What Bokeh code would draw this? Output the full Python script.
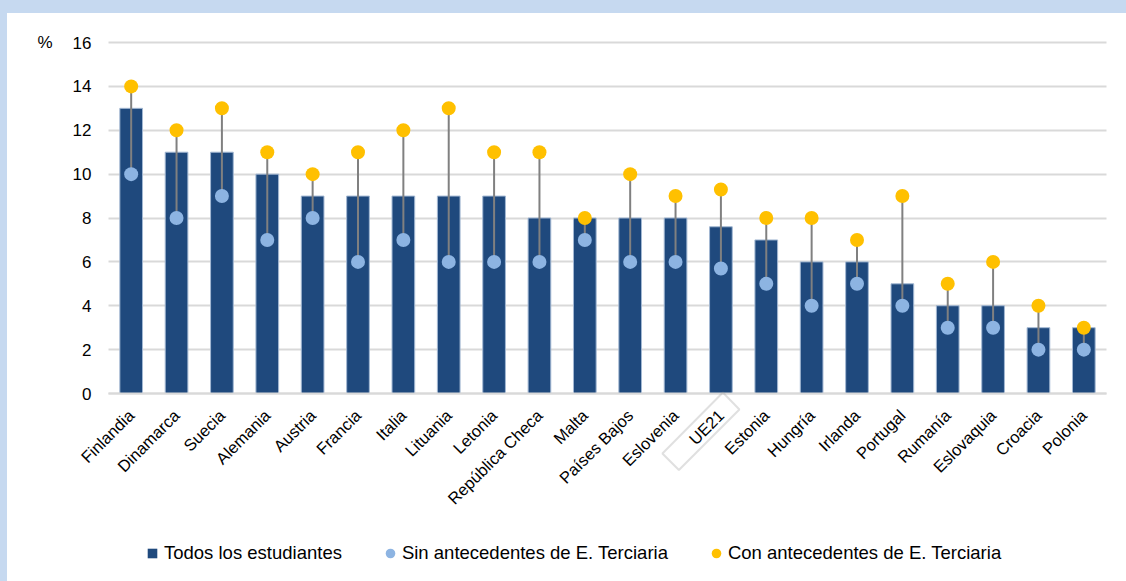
from math import pi

from bokeh.plotting import figure
from bokeh.models import (ColumnDataSource, FixedTicker, Legend, LegendItem, LinearAxis,
                          PolyAnnotation, Range1d, GlobalInlineStyleSheet)
from bokeh.embed import file_html
from bokeh.resources import INLINE

# ---------------- data ----------------
countries = ["Finlandia", "Dinamarca", "Suecia", "Alemania", "Austria", "Francia", "Italia",
             "Lituania", "Letonia", "República Checa", "Malta", "Países Bajos", "Eslovenia",
             "UE21", "Estonia", "Hungría", "Irlanda", "Portugal", "Rumanía", "Eslovaquia",
             "Croacia", "Polonia"]
todos = [13, 11, 11, 10, 9, 9, 9, 9, 9, 8, 8, 8, 8, 7.6, 7, 6, 6, 5, 4, 4, 3, 3]
sin_antecedentes = [10, 8, 9, 7, 8, 6, 7, 6, 6, 6, 7, 6, 6, 5.7, 5, 4, 5, 4, 3, 3, 2, 2]
con_antecedentes = [14, 12, 13, 11, 10, 11, 12, 13, 11, 11, 8, 10, 9, 9.3, 8, 8, 7, 9, 5, 6, 4, 3]
y_ticks = [0, 2, 4, 6, 8, 10, 12, 14, 16]
y_unit = "%"
highlight = "UE21"
legend_labels = ["Todos los estudiantes", "Sin antecedentes de E. Terciaria",
                 "Con antecedentes de E. Terciaria"]

# category centres on a numeric scale (0.5, 1.5, ...)
n_cat = len(countries)
x_pos = [i + 0.5 for i in range(n_cat)]

# ---------------- layout / style ----------------
FONT = "Liberation Sans"
C_BAR = "#1f497d"
C_SIN = "#8db4e2"
C_CON = "#ffc000"

W, H = 1126, 581
PANEL_L, PANEL_T = 7, 13            # white panel starts here (blue band around it)
AX_L, AX_R = 108, 1106              # screen columns where the category axis starts / ends
Y0_PX, YTOP_PX = 393, 42            # screen rows of value 0 and of the top tick
px_per_unit = (Y0_PX - YTOP_PX) / y_ticks[-1]
px_per_cat = (AX_R - AX_L) / n_cat

x_start = (PANEL_L - AX_L) / px_per_cat
x_end = (W - AX_L) / px_per_cat
y_start = -(H - Y0_PX) / px_per_unit
y_end = (Y0_PX - PANEL_T) / px_per_unit

src = ColumnDataSource(dict(x=x_pos, country=countries, todos=todos,
                            sin=sin_antecedentes, con=con_antecedentes))

p = figure(x_range=Range1d(x_start, x_end), y_range=Range1d(y_start, y_end),
           width=W, height=H, output_backend="svg", toolbar_location=None,
           min_border_left=PANEL_L, min_border_right=0,
           min_border_top=PANEL_T, min_border_bottom=0)

p.stylesheets = [GlobalInlineStyleSheet(css=(
    "html, body { margin: 0; padding: 0; }"
    "body { background: linear-gradient(#c6d9f0, #c6d9f0) 0 0 / 100% 13px no-repeat,"
    " linear-gradient(#c6d9f0, #c6d9f0) 0 0 / 7px 100% no-repeat, #ffffff; }"))]

p.border_fill_color = None
p.background_fill_color = "white"
p.outline_line_color = None

# ---------------- grid ----------------
p.xgrid.grid_line_color = None
yg = p.ygrid[0]
yg.ticker = FixedTicker(ticks=y_ticks)
if "cross_bounds" in yg.properties():
    yg.cross_bounds = (0, n_cat)
    yg.grid_line_color = "#d9d9d9"
    yg.grid_line_width = 2
else:
    yg.grid_line_color = None
    p.segment(x0=[0] * len(y_ticks), x1=[n_cat] * len(y_ticks), y0=y_ticks, y1=y_ticks,
              line_color="#d9d9d9", line_width=2, level="underlay")

# ---------------- marks ----------------
r_bar = p.vbar(x="x", top="todos", width=0.5, source=src, fill_color=C_BAR,
               line_color="#a3b8d3", line_width=1)
p.segment(x0="x", y0="sin", x1="x", y1="con", source=src,
          line_color="#808080", line_width=2)
r_sin = p.scatter(x="x", y="sin", source=src, size=14, fill_color=C_SIN, line_color=None)
r_con = p.scatter(x="x", y="con", source=src, size=14, fill_color=C_CON, line_color=None)
# zero-size square markers: only used to give the bar series a square legend swatch
r_bar_key = p.scatter(x="x", y="todos", source=src, size=0, marker="square",
                      fill_color=C_BAR, line_color=None)

# ---------------- axes ----------------
yax = p.yaxis[0]
yax.fixed_location = 0
yax.ticker = FixedTicker(ticks=y_ticks)
yax.axis_line_color = None
yax.major_tick_line_color = None
yax.minor_tick_line_color = None
yax.major_tick_out = 0
yax.major_label_standoff = 17
yax.major_label_text_font = FONT
yax.major_label_text_font_size = "17px"
yax.major_label_text_color = "#000000"

# unit label "%" beside the top tick, as a second axis
unit_axis = LinearAxis(fixed_location=0, ticker=FixedTicker(ticks=[y_ticks[-1]]),
                       major_label_overrides={y_ticks[-1]: y_unit},
                       axis_line_color=None, major_tick_line_color=None,
                       minor_tick_line_color=None, major_tick_out=0,
                       major_label_standoff=56, major_label_text_font=FONT,
                       major_label_text_font_size="17px", major_label_text_color="#000000")
p.add_layout(unit_axis, "left")

xax = p.xaxis[0]
xax.fixed_location = 0
xax.bounds = (0, n_cat)
xax.ticker = FixedTicker(ticks=x_pos)
xax.major_label_overrides = {x: c for x, c in zip(x_pos, countries)}
xax.axis_line_color = "#d9d9d9"
xax.axis_line_width = 2
xax.major_tick_line_color = None
xax.minor_tick_line_color = None
xax.major_tick_out = 0
xax.major_label_standoff = 19
xax.major_label_orientation = pi / 4
xax.major_label_text_font = FONT
xax.major_label_text_font_size = "16.5px"
xax.major_label_text_color = "#000000"

# ---------------- box around the highlighted category label ----------------
hx = x_pos[countries.index(highlight)]
# corners as pixel offsets (right, down) from the category tick on the axis
box_px = [(2, -1), (18.5, 16), (-42, 76.5), (-58.5, 60)]
p.add_layout(PolyAnnotation(xs=[hx + dx / px_per_cat for dx, dy in box_px],
                            ys=[-dy / px_per_unit for dx, dy in box_px],
                            fill_color=None, line_color="#999999", line_width=2))

# ---------------- legend ----------------
legend = Legend(items=[LegendItem(label=legend_labels[0], renderers=[r_bar_key]),
                       LegendItem(label=legend_labels[1], renderers=[r_sin]),
                       LegendItem(label=legend_labels[2], renderers=[r_con])],
                orientation="horizontal", location=(140 - PANEL_L, 16),
                glyph_width=24, glyph_height=24, label_standoff=0, spacing=36,
                padding=0, margin=0, border_line_color=None, background_fill_color=None,
                label_text_font=FONT, label_text_font_size="18.5px",
                label_text_color="#000000")
p.add_layout(legend)

open("out.html", "w").write(file_html(p, INLINE))
